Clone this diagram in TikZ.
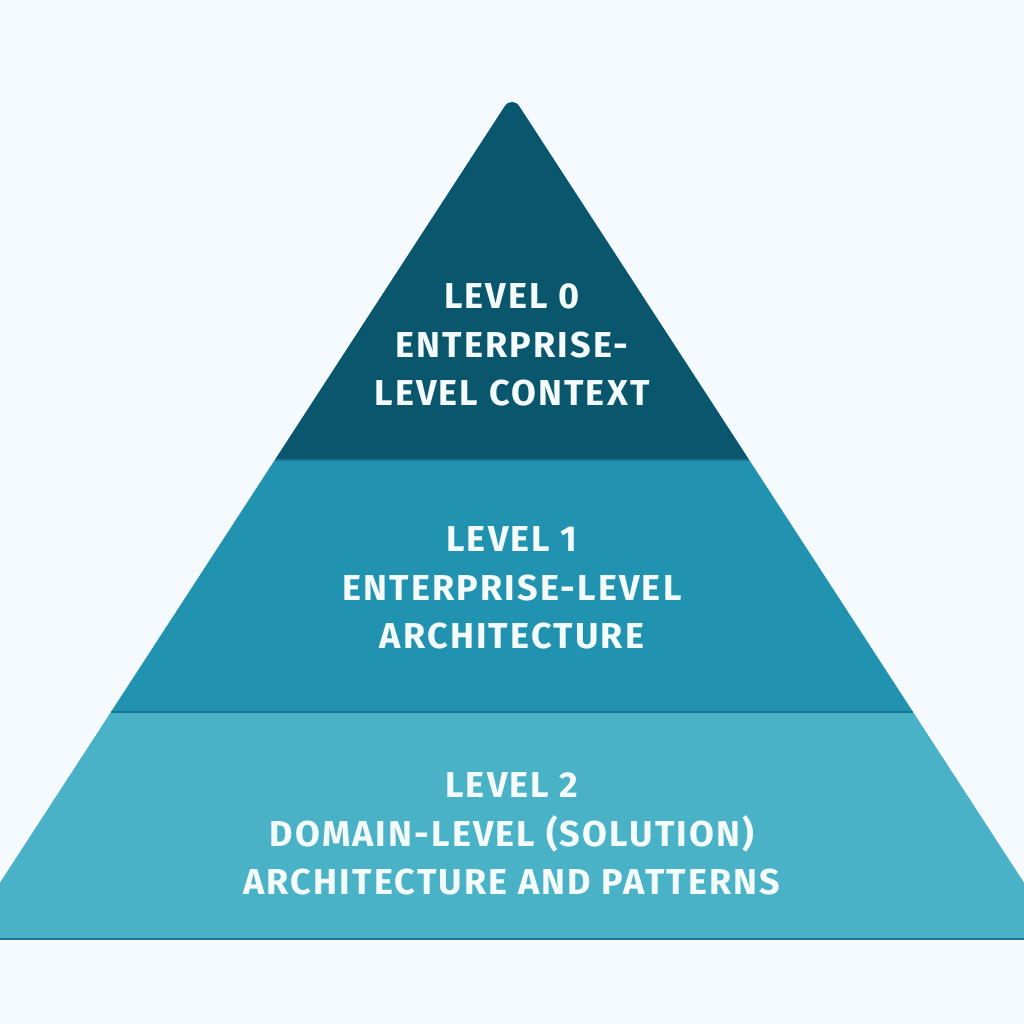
\documentclass[tikz,border=0pt]{standalone}
\usepackage{fontspec}
\setmainfont{Fira Sans}[LetterSpace=6]
\definecolor{bgc}{HTML}{F4FAFD}
\definecolor{topc}{HTML}{0A566D}
\definecolor{midc}{HTML}{2193B0}
\definecolor{botc}{HTML}{4AB2C7}
\definecolor{txtc}{HTML}{F4FBFD}
\definecolor{linec}{HTML}{17758F}
\begin{document}
\begin{tikzpicture}[x=1pt,y=-1pt,
  lvltext/.style={text=txtc,font=\fontsize{36}{48.5}\selectfont\bfseries,align=center,inner sep=0pt},
  divider/.style={draw=linec,line width=1.6pt}]
\fill[bgc] (0,0) rectangle (1024,1024);
\useasboundingbox (0,0) rectangle (1024,1024);
\begin{scope}
\clip (0,0) rectangle (1024,1024);
% bottom layer
\fill[botc] (110.95,712) -- (913.05,712) -- (1060.6,939) -- (-36.6,939) -- cycle;
% middle layer
\fill[midc] (274.75,460) -- (749.25,460) -- (913.05,712) -- (110.95,712) -- cycle;
% top layer
\fill[topc] (274.75,460) [rounded corners=14pt]-- (512,95) [sharp corners]-- (749.25,460) -- cycle;
\coordinate (d1l) at (274.75,460); \coordinate (d1r) at (749.25,460);
\coordinate (d2l) at (110.95,712); \coordinate (d2r) at (913.05,712);
\coordinate (bl) at (-36.6,939); \coordinate (br) at (1060.6,939);
\draw[divider] (d1l) -- (d1r);
\draw[divider] (d2l) -- (d2r);
\draw[divider] (bl) -- (br);
\end{scope}
\node[lvltext] (t0) at (512,345) {LEVEL 0\\ENTERPRISE-\\LEVEL CONTEXT};
\node[lvltext] (t1) at (512,588) {LEVEL 1\\ENTERPRISE-LEVEL\\ARCHITECTURE};
\node[lvltext] (t2) at (512,834) {LEVEL 2\\DOMAIN-LEVEL (SOLUTION)\\ARCHITECTURE AND PATTERNS};
\end{tikzpicture}
\end{document}
